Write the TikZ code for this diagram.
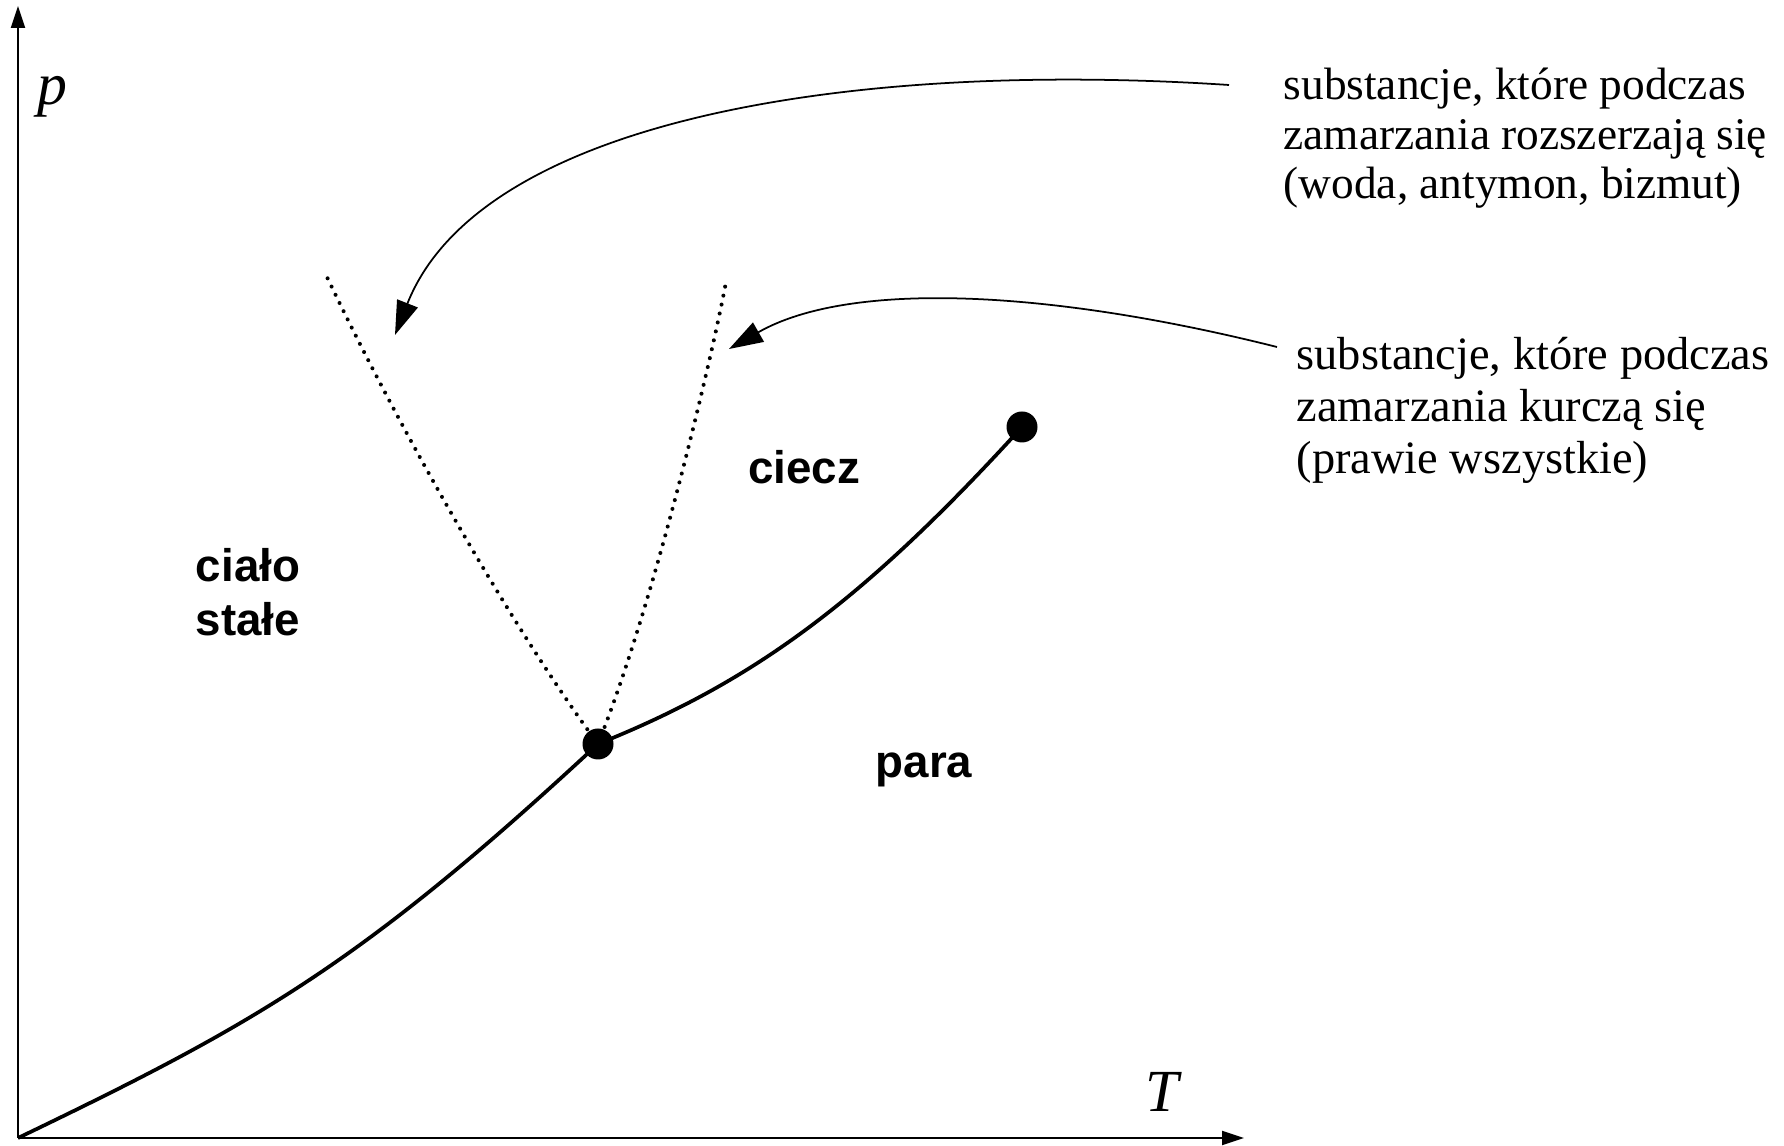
\documentclass[tikz,border=0pt]{standalone}
\usepackage{fontspec}
\setmainfont{Liberation Serif}
\newfontfamily\phasefont{Liberation Sans}
\usetikzlibrary{arrows.meta}

\begin{document}
\begin{tikzpicture}[x=0.1mm, y=-0.1mm]
\tikzstyle{phase}=[font=\phasefont\bfseries\fontsize{13}{15.4}\selectfont, align=center, inner sep=0pt, anchor=base]
\tikzstyle{note}=[font=\fontsize{12.9}{14.2}\selectfont, align=left, inner sep=0pt, anchor=base west]
\tikzstyle{axlabel}=[font=\itshape\fontsize{17}{17}\selectfont, inner sep=0pt, anchor=base]
\tikzstyle{pt}=[circle, fill=black, inner sep=0pt, minimum size=3.1mm]
\tikzstyle{axis}=[-{Triangle[length=2.2mm, width=1.4mm]}, line width=0.6pt]
\tikzstyle{boundary}=[line width=1.05pt]
\tikzstyle{melt}=[line width=1.15pt, line cap=round, dash pattern=on 0pt off 2.6pt]
\tikzstyle{pointer}=[-{Triangle[length=3.4mm, width=2.2mm]}, line width=0.5pt]
\useasboundingbox (0,0) rectangle (1784,1146);
% axes
\coordinate (O) at (18,1138);
\coordinate (ptip) at (18,6);
\coordinate (Ttip) at (1244,1138);
\draw[axis] (O) -- (ptip);
\draw[axis] (O) -- (Ttip);
\node[axlabel] (plab) at (52,105) {p};
\node[axlabel] (Tlab) at (1162,1112) {T};
% points
\node[pt] (triple) at (598,744) {};
\node[pt] (crit) at (1022,427) {};
\coordinate (meltL) at (326,275);
\coordinate (meltR) at (726,282);
% phase boundaries
\draw[boundary] (O) .. controls (257,1023) and (361,964) .. (triple.center);
\draw[boundary] (triple.center) .. controls (750,683) and (860,605) .. (crit.center);
\draw[melt] (triple.center) .. controls (508,622) and (396,422) .. (meltL);
\draw[melt] (triple.center) .. controls (658,594) and (716,337) .. (meltR);
% phases
\node[phase] (solid) at (248,636) {ciało\\stałe};
\node[phase] (liquid) at (804,484) {ciecz};
\node[phase] (vapour) at (924,778) {para};
% notes
\node[note] (expand) at (1283,199) {substancje, które podczas\\zamarzania rozszerzają się\\(woda, antymon, bizmut)};
\node[note, font=\fontsize{13.2}{14.8}\selectfont] (shrink) at (1296,474) {substancje, które podczas\\zamarzania kurczą się\\(prawie wszystkie)};
\coordinate (a1) at (1229,85);
\coordinate (a1tip) at (395,335);
\coordinate (a2) at (1277,347);
\coordinate (a2tip) at (729,349);
\draw[pointer] (a1) .. controls (850,60) and (480,120) .. (a1tip);
\draw[pointer] (a2) .. controls (1050,290) and (850,280) .. (a2tip);
\end{tikzpicture}
\end{document}
